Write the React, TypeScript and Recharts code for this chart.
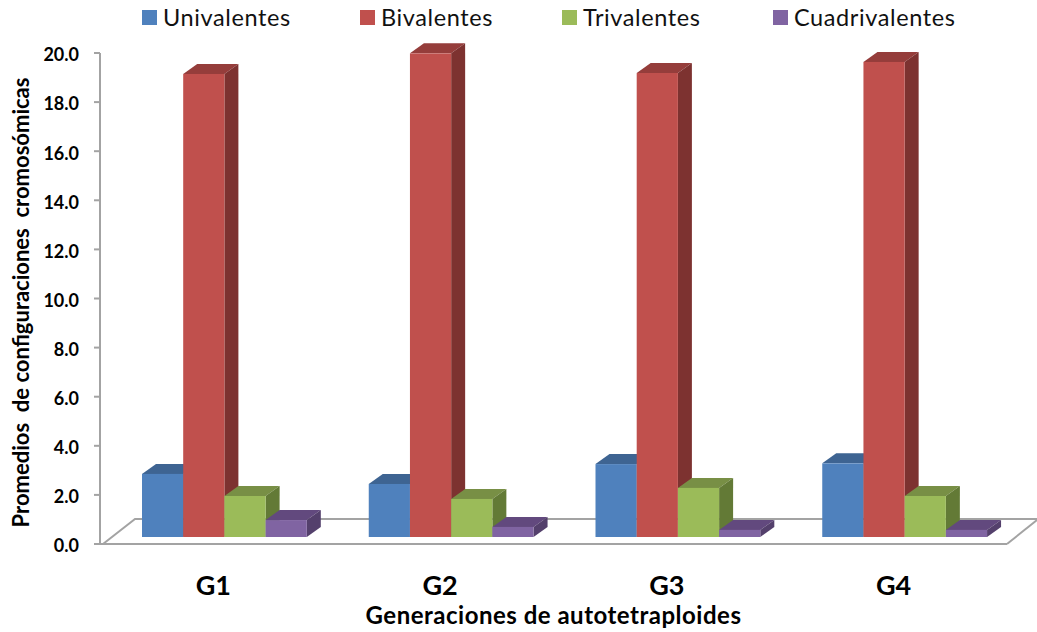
import React from "react";
import { Bar, BarChart, Customized, Legend, XAxis, YAxis } from "recharts";

const generations = ["G1", "G2", "G3", "G4"];
const univalentes = [2.57, 2.16, 2.97, 3.0];
const bivalentes = [18.86, 19.7, 18.9, 19.35];
const trivalentes = [1.67, 1.55, 2.0, 1.67];
const cuadrivalentes = [0.69, 0.41, 0.29, 0.29];
const yTicks = [0, 2, 4, 6, 8, 10, 12, 14, 16, 18, 20];

const data = generations.map((g, i) => ({
  g,
  univalentes: univalentes[i],
  bivalentes: bivalentes[i],
  trivalentes: trivalentes[i],
  cuadrivalentes: cuadrivalentes[i],
}));

const WIDTH = 1037;
const HEIGHT = 632;
const LEFT = 100;
const TOP = 53;
const RIGHT = 1007;
const BOTTOM = 544;
const AXIS_GREY = "#a3a3a3";
const FONT = "Lato, 'Open Sans', sans-serif";

// fake 3D: front face is pushed back onto the floor, then top and side faces
const SHIFT_X = 11;
const SHIFT_Y = 7;
const DEPTH_X = 14;
const DEPTH_Y = 10;

const faces: Record<string, { top: string; side: string }> = {
  "#4F81BD": { top: "#3E6492", side: "#38587F" },
  "#C0504D": { top: "#953D3B", side: "#7D3230" },
  "#9BBB59": { top: "#788F45", side: "#637A36" },
  "#8064A2": { top: "#62497E", side: "#54406C" },
};

function Bar3D(props: any) {
  const { x, y, width, height, fill } = props;
  const l = x + SHIFT_X;
  const t = y - SHIFT_Y;
  const r = l + width;
  const b = t + height;
  const shade = faces[fill];
  return (
    <g>
      <polygon
        points={`${l},${t} ${l + DEPTH_X},${t - DEPTH_Y} ${r + DEPTH_X},${t - DEPTH_Y} ${r},${t}`}
        fill={shade.top}
      />
      <polygon
        points={`${r},${t} ${r + DEPTH_X},${t - DEPTH_Y} ${r + DEPTH_X},${b - DEPTH_Y} ${r},${b}`}
        fill={shade.side}
      />
      <rect x={l} y={t} width={width} height={height} fill={fill} />
    </g>
  );
}

function Floor() {
  return (
    <polyline
      points={`${LEFT + 3},${BOTTOM} ${LEFT + 35},519 ${WIDTH},519`}
      fill="none"
      stroke={AXIS_GREY}
      strokeWidth={2}
    />
  );
}

function FloorEdge() {
  return (
    <line x1={RIGHT} y1={BOTTOM} x2={WIDTH} y2={520} stroke={AXIS_GREY} strokeWidth={2} />
  );
}

// zero height on purpose, so the legend does not push the plot down
function LegendRow({ payload }: any) {
  const starts = [142, 360, 562, 773];
  return (
    <div style={{ position: "relative", width: WIDTH, height: 0 }}>
      {(payload || []).map((item: any, i: number) => (
        <div
          key={item.value}
          style={{
            position: "absolute",
            left: starts[i],
            top: 0,
            display: "flex",
            alignItems: "center",
            fontFamily: FONT,
            fontSize: 23.5,
            color: "#111",
            letterSpacing: 0.6,
            whiteSpace: "nowrap",
          }}
        >
          <span
            style={{ width: 15, height: 15, background: item.color, marginRight: 6 }}
          />
          {item.value}
        </div>
      ))}
    </div>
  );
}

export default function App() {
  return (
    <div style={{ position: "absolute", left: 0, top: 0, width: WIDTH, height: HEIGHT }}>
      <BarChart
        width={WIDTH}
        height={HEIGHT}
        data={data}
        barSize={41.2}
        barGap={0}
        margin={{ top: TOP, left: 0, right: WIDTH - RIGHT, bottom: 0 }}
      >
        <Customized component={Floor} />
        <Customized component={FloorEdge} />
        <XAxis
          dataKey="g"
          height={HEIGHT - BOTTOM}
          axisLine={{ stroke: AXIS_GREY, strokeWidth: 2 }}
          tickLine={false}
          tickMargin={26}
          tick={{ fill: "#000", fontSize: 27, fontWeight: 700, fontFamily: FONT }}
          label={{
            value: "Generaciones de autotetraploides",
            position: "insideBottom",
            offset: 8,
            fill: "#000",
            fontSize: 24,
            letterSpacing: 0.5,
            fontWeight: 700,
            fontFamily: FONT,
          }}
        />
        <YAxis
          width={LEFT}
          domain={[0, 20]}
          ticks={yTicks}
          interval={0}
          tickFormatter={(v: number) => v.toFixed(1)}
          axisLine={{ stroke: AXIS_GREY, strokeWidth: 2 }}
          tickLine={{ stroke: AXIS_GREY, strokeWidth: 2 }}
          tickSize={6}
          tickMargin={15}
          tick={{ fill: "#000", fontSize: 18, fontWeight: 700, fontFamily: FONT, dy: 2 }}
          label={{
            value: "Promedios \u00a0de configuraciones \u00a0cromosómicas",
            angle: -90,
            position: "insideLeft",
            offset: 21,
            dy: 4,
            textAnchor: "middle",
            fill: "#000",
            fontSize: 22,
            fontWeight: 700,
            fontFamily: FONT,
          }}
        />
        <Legend
          verticalAlign="top"
          align="left"
          itemSorter={null}
          content={<LegendRow />}
          wrapperStyle={{ position: "absolute", left: 0, top: 3, width: WIDTH, height: 0 }}
        />
        <Bar dataKey="univalentes" name="Univalentes" fill="#4F81BD" shape={Bar3D} isAnimationActive={false} />
        <Bar dataKey="bivalentes" name="Bivalentes" fill="#C0504D" shape={Bar3D} isAnimationActive={false} />
        <Bar dataKey="trivalentes" name="Trivalentes" fill="#9BBB59" shape={Bar3D} isAnimationActive={false} />
        <Bar dataKey="cuadrivalentes" name="Cuadrivalentes" fill="#8064A2" shape={Bar3D} isAnimationActive={false} />
      </BarChart>
    </div>
  );
}
